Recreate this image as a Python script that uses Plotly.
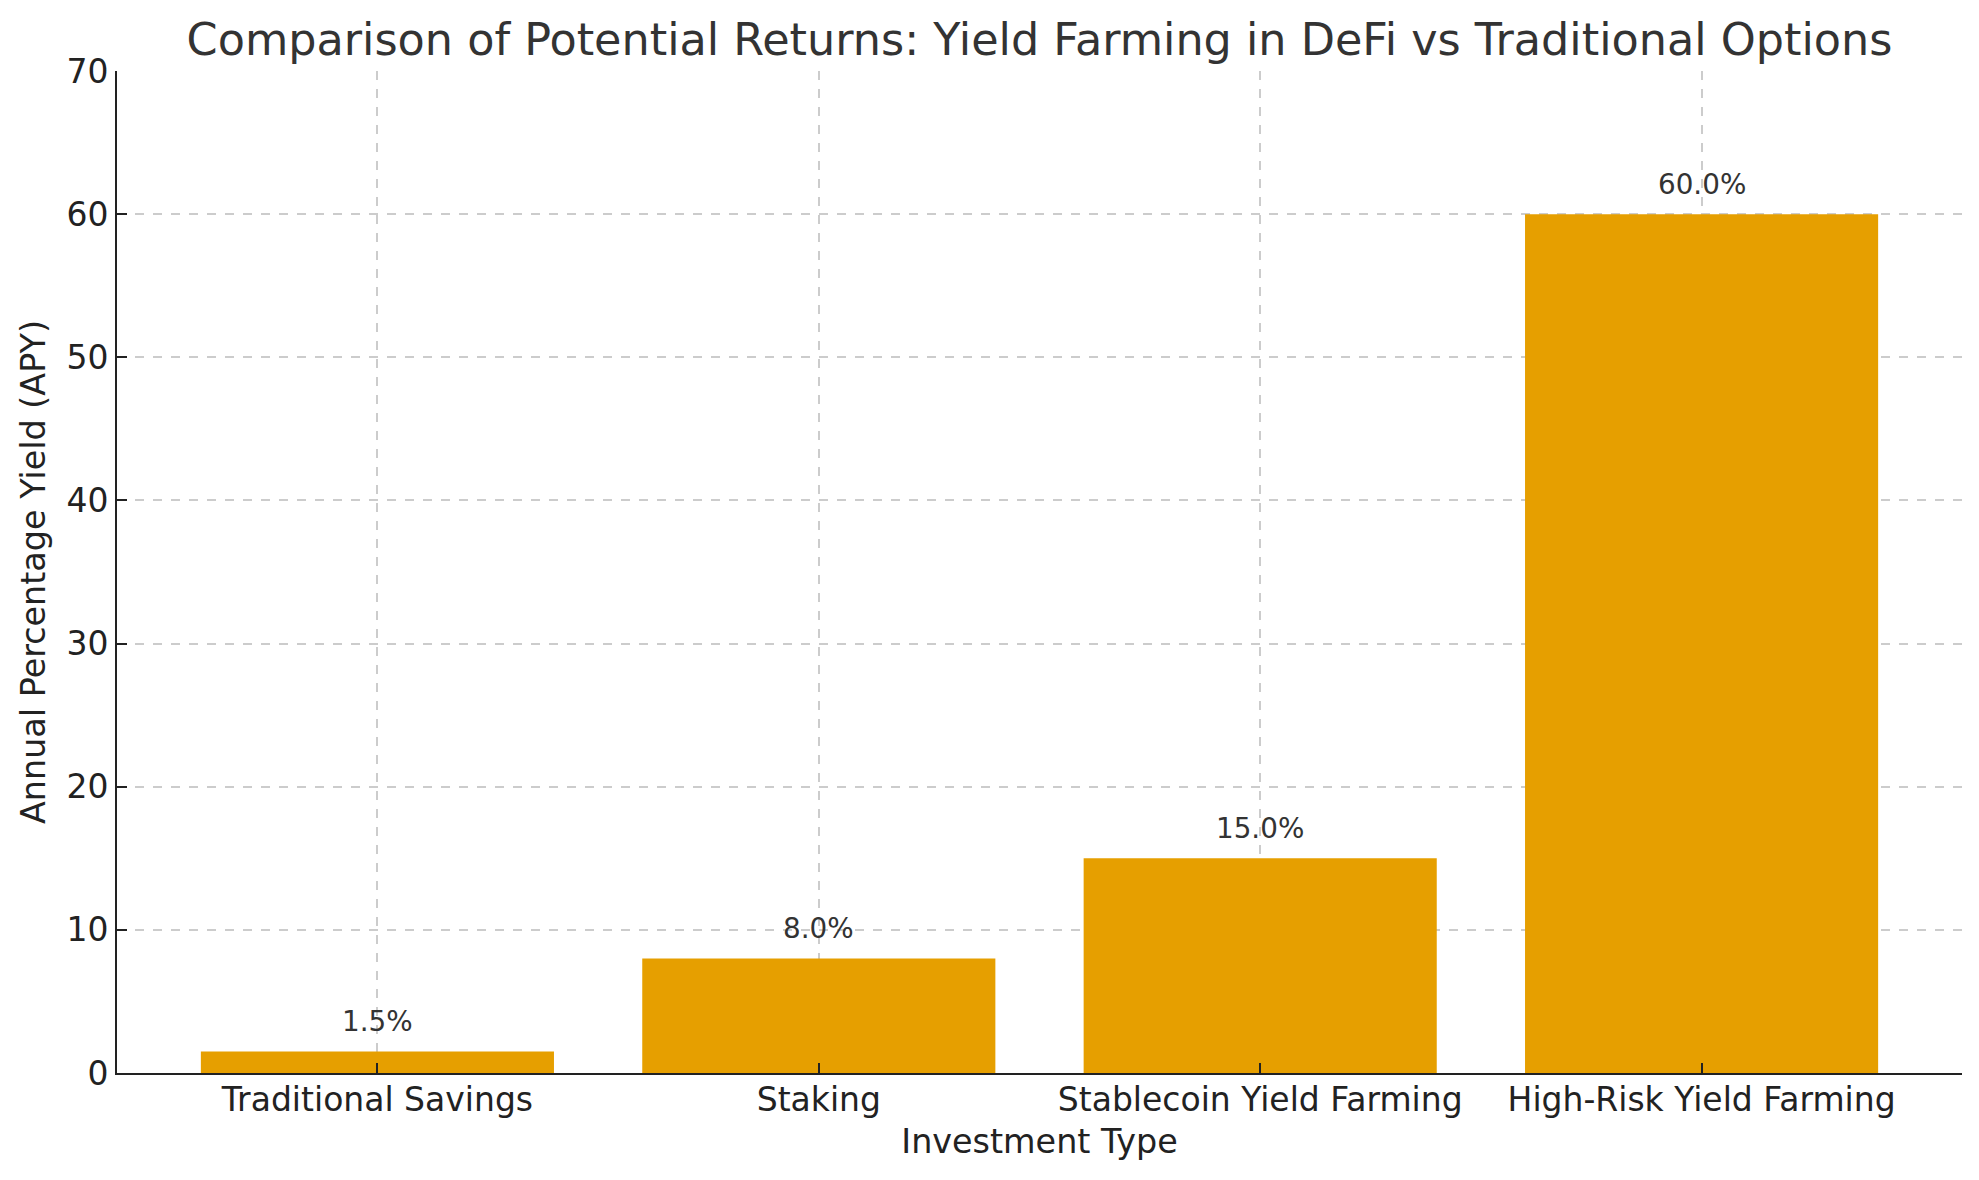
import plotly.graph_objects as go

# investment types and their annual percentage yields
investment_types = [
    "Traditional Savings",
    "Staking",
    "Stablecoin Yield Farming",
    "High-Risk Yield Farming",
]
apy_values = [1.5, 8.0, 15.0, 60.0]
y_ticks = [0, 10, 20, 30, 40, 50, 60, 70]

bar_color = "#E69F00"
font_family = "DejaVu Sans"

# page body adds 8px around the figure, so size is reduced to fit the window
fig_w, fig_h = 1971, 1172

fig = go.Figure()

fig.add_trace(
    go.Bar(
        x=investment_types,
        y=apy_values,
        marker=dict(color=bar_color, line=dict(width=0)),
        width=0.8,
        hoverinfo="x+y",
    )
)

# value labels above bars
for name, val in zip(investment_types, apy_values):
    fig.add_annotation(
        x=name,
        y=val,
        text="{:.1f}%".format(val),
        showarrow=False,
        yanchor="middle",
        yshift=30,
        font=dict(family=font_family, size=27.8, color="#333333"),
    )

fig.update_layout(
    width=fig_w,
    height=fig_h,
    margin=dict(l=109, r=17, t=63, b=107, autoexpand=False),
    paper_bgcolor="white",
    plot_bgcolor="white",
    showlegend=False,
    font=dict(family=font_family, size=33, color="#222222"),
    title=dict(
        text="Comparison of Potential Returns: Yield Farming in DeFi vs Traditional Options",
        x=0.5,
        xanchor="center",
        xref="paper",
        y=1 - 31 / fig_h,
        yanchor="middle",
        yref="container",
        font=dict(family=font_family, size=44.5, color="#333333"),
    ),
)

fig.update_xaxes(
    type="category",
    range=[-0.59, 3.59],
    showline=True,
    linecolor="#222222",
    linewidth=2,
    ticks="inside",
    ticklen=10,
    tickwidth=2,
    tickcolor="#222222",
    ticklabelstandoff=-4,
    showgrid=True,
    gridcolor="#cccccc",
    gridwidth=1.5,
    griddash="dash",
    layer="above traces",
    tickfont=dict(size=33, color="#222222"),
    title=dict(text="Investment Type", standoff=12, font=dict(size=33.4, color="#222222")),
    automargin=False,
)

fig.update_yaxes(
    range=[0, 70],
    tickvals=y_ticks,
    showline=True,
    linecolor="#222222",
    linewidth=2,
    ticks="inside",
    ticklen=10,
    tickwidth=2,
    tickcolor="#222222",
    showgrid=True,
    gridcolor="#cccccc",
    gridwidth=1.5,
    griddash="dash",
    zeroline=False,
    layer="above traces",
    tickfont=dict(size=33, color="#222222"),
    title=dict(text="Annual Percentage Yield (APY)", standoff=11, font=dict(size=33.4, color="#222222")),
    automargin=False,
)

fig.write_html("out.html")
